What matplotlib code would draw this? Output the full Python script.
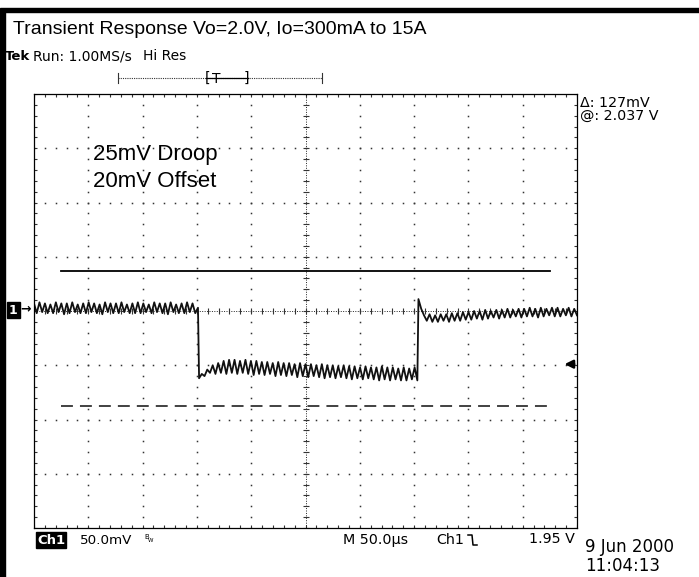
import numpy as np
import matplotlib.pyplot as plt
from matplotlib.patches import Rectangle
from matplotlib.lines import Line2D

# scope screen: 10 div x 50us, 8 div x 50mV, 0 mV = centre line
time_span_us = 500
mv_span = 200
step_down_us = 151.0
step_up_us = 354.0

# ripple, one value per half ripple period (mV)
pre_mv = [7, -2, 8, -1, 7, -2, 6, -2, 8, -1, 7, -3, 7, -2, 8, -1, 6, -2, 7, -2,
          8, -1, 7, -2, 6, -3, 8, -1, 7, -2, 7, -2, 8, -1, 6, -2, 7, -2, 8, -2,
          7, -1, 6, -2, 8, -1, 7, -2, 7, -3, 8, -1, 6, -2, 7, -2, 8, -1, 7, -2, 3]
droop_mv = [-62, -58, -60, -54, -57, -50, -58, -48, -57, -46, -58, -45, -57, -45,
            -58, -46, -57, -45, -58, -46, -59, -46, -58, -47, -59, -47, -58, -48,
            -60, -47, -59, -48, -60, -48, -59, -49, -61, -48, -60, -49, -61, -49,
            -60, -50, -61, -49, -62, -50, -61, -50, -62, -51, -61, -50, -62, -51,
            -63, -51, -62, -52, -63, -51, -62, -52, -63, -52, -64, -51, -63, -52,
            -64, -52, -63, -53, -64, -52, -64, -53, -63, -52, -64]
post_mv = [11, 2, -4, -9, -3, -10, -4, -10, -3, -9, -3, -10, -2, -9, -2, -9, -1,
           -8, -1, -8, 0, -7, 0, -8, 1, -7, 0, -6, 1, -7, 1, -6, 2, -6, 1, -5, 2,
           -6, 2, -5, 3, -5, 2, -6, 3, -5, 2, -4, 3, -5, 3, -5, 2, -4, 3, -5, 2, -4]

upper_mv = 37
lower_mv = -88
limit_us = [25, 475]
trigger_mv = -49

W, H = 699, 577


def fx(x):
    return x / W


def fy(y):
    return 1 - y / H


fig = plt.figure(figsize=(W / 100, H / 100), dpi=100)
tek = 'DejaVu Sans'
arial = 'Liberation Sans'

# page frame (top and left only)
fig.patches.append(Rectangle((0, fy(12)), 1, 4 / H, transform=fig.transFigure,
                             color='black', zorder=5))
fig.patches.append(Rectangle((0, 0), 4.5 / W, fy(10), transform=fig.transFigure,
                             color='black', zorder=5))

ax = fig.add_axes([fx(34), fy(528), 543 / W, 434 / H])
ax.set_xlim(0, time_span_us)
ax.set_ylim(-mv_span, mv_span)
ax.set_xticks([])
ax.set_yticks([])
for s in ax.spines.values():
    s.set_linewidth(0.9)

minor_x = np.arange(0, time_span_us + 1, 10)
minor_y = np.arange(-mv_span, mv_span + 1, 10)
dot = dict(ls='none', marker='s', ms=1.1, color='#333333', mew=0)
for xv in range(50, time_span_us, 50):
    if xv != 250:
        ax.plot([xv] * len(minor_y), minor_y, **dot)
for yv in range(-150, mv_span, 50):
    if yv != 0:
        ax.plot(minor_x, [yv] * len(minor_x), **dot)

# edge ticks
tk = dict(ls='none', color='#333333', mew=0.8)
ax.plot(minor_x, [mv_span] * len(minor_x), marker='|', ms=5, **tk)
ax.plot(minor_x, [-mv_span] * len(minor_x), marker='|', ms=5, **tk)
ax.plot([0] * len(minor_y), minor_y, marker='_', ms=5, **tk)
ax.plot([time_span_us] * len(minor_y), minor_y, marker='_', ms=5, **tk)

# centre cross
ax.axhline(0, color='#222222', lw=0.7, ls=(0, (1, 1.5)))
ax.axvline(250, color='#222222', lw=0.7, ls=(0, (1, 1.5)))
ax.plot(minor_x, [0] * len(minor_x), marker='|', ms=4, **tk)
ax.plot([250] * len(minor_y), minor_y, marker='_', ms=4, **tk)

# limit lines
ax.plot(limit_us, [upper_mv, upper_mv], color='black', lw=1.3)
ax.plot(limit_us, [lower_mv, lower_mv], color='#333333', lw=1.3,
        ls=(0, (6.6, 3.9)))

# trace
t = np.concatenate([np.linspace(0, step_down_us, len(pre_mv)),
                    np.linspace(step_down_us + 1, step_up_us - 1, len(droop_mv)),
                    np.linspace(step_up_us, time_span_us, len(post_mv))])
v = np.concatenate([pre_mv, droop_mv, post_mv])
ax.plot(t, v, color='#111111', lw=1.3)

# trigger level arrow
ax.annotate('', xy=(486, trigger_mv), xytext=(500, trigger_mv),
            arrowprops=dict(arrowstyle='-|>', color='black', lw=1.8,
                            mutation_scale=12))

ax.text(54, 143.8, '25mV Droop', fontsize=16, family=arial, va='center')
ax.text(54, 118.9, '20mV Offset', fontsize=16, family=arial, va='center')

# title and scope header
fig.text(fx(13), fy(30), 'Transient Response Vo=2.0V, Io=300mA to 15A',
         fontsize=14.0, family=arial, va='center')
fig.text(fx(5), fy(56), 'Tek', fontsize=9.5, family=tek, weight='bold', va='center')
fig.text(fx(33), fy(56), 'Run: 1.00MS/s', fontsize=10, family=tek, va='center')
fig.text(fx(143), fy(56), 'Hi Res', fontsize=10, family=tek, va='center')

# record position bar
fig.lines.append(Line2D([fx(118), fx(322)], [fy(78), fy(78)], lw=0.8,
                        color='#333333', ls=(0, (1, 1)), transform=fig.transFigure))
for xb in (118, 322):
    fig.lines.append(Line2D([fx(xb), fx(xb)], [fy(73), fy(83)], lw=0.8,
                            color='#333333', transform=fig.transFigure))
fig.lines.append(Line2D([fx(206), fx(248)], [fy(78), fy(78)], lw=0.9,
                        color='black', transform=fig.transFigure))
fig.text(fx(205), fy(78), '[', fontsize=10, family=tek, va='center')
fig.text(fx(212), fy(79), 'T', fontsize=10, family=tek, va='center')
fig.text(fx(244), fy(78), ']', fontsize=10, family=tek, va='center')

# cursor readout
fig.text(fx(580), fy(103), '\u0394: 127mV', fontsize=10.3, family=tek, va='center')
fig.text(fx(580), fy(116), '@: 2.037 V', fontsize=10.3, family=tek, va='center')

# channel marker
fig.text(fx(9), fy(310), '1', fontsize=9, family=tek, weight='bold', color='white',
         va='center', bbox=dict(boxstyle='square,pad=0.15', fc='black', ec='black'))
fig.text(fx(20), fy(309), '\u2192', fontsize=9, family=tek, weight='bold', va='center')

# bottom readout
fig.text(fx(37), fy(540), 'Ch1', fontsize=9.5, family=tek, weight='bold', color='white',
         va='center', bbox=dict(boxstyle='square,pad=0.1', fc='black', ec='black'))
fig.text(fx(80), fy(540), '50.0mV', fontsize=9.7, family=tek, va='center')
fig.text(fx(144), fy(537), 'B', fontsize=5, family=tek, va='center')
fig.text(fx(148), fy(541), 'W', fontsize=4, family=tek, va='center')
fig.text(fx(343), fy(540), 'M 50.0\u00b5s', fontsize=10.3, family=tek, va='center')
fig.text(fx(436), fy(540), 'Ch1', fontsize=10.3, family=tek, va='center')
fig.lines.append(Line2D([fx(468), fx(472), fx(473), fx(477)],
                        [fy(535), fy(535), fy(545), fy(545)], lw=1.1,
                        color='black', transform=fig.transFigure))
fig.text(fx(575), fy(539), '1.95 V', fontsize=10.3, family=tek, va='center', ha='right')
fig.text(fx(585), fy(547), '9 Jun 2000', fontsize=12, family=tek, va='center')
fig.text(fx(585), fy(566), '11:04:13', fontsize=12, family=tek, va='center')

fig.savefig('out.png', dpi=100)
